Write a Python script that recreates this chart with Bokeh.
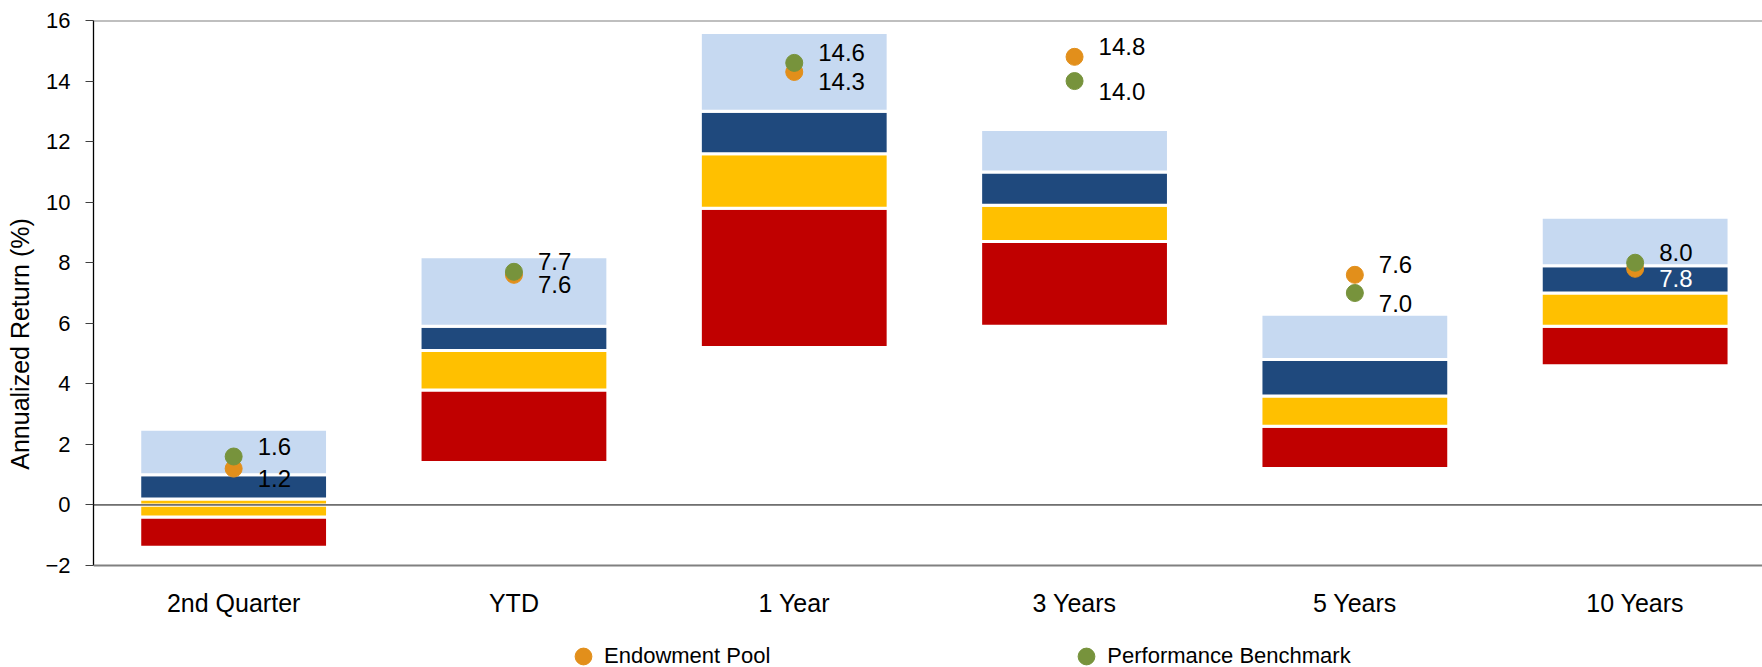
from bokeh.plotting import figure
from bokeh.models import ColumnDataSource, Range1d, FixedTicker, Span, Legend, LegendItem
from bokeh.core.properties import value
from bokeh.embed import file_html
from bokeh.resources import INLINE

# ---- data ----
categories = ["2nd Quarter", "YTD", "1 Year", "3 Years", "5 Years", "10 Years"]
pct95 = [2.5, 8.2, 15.6, 12.4, 6.3, 9.5]
pct75 = [1.0, 5.9, 13.0, 11.0, 4.8, 7.9]
pct50 = [0.2, 5.1, 11.6, 9.9, 3.6, 7.0]
pct25 = [-0.4, 3.8, 9.8, 8.7, 2.6, 5.9]
pct5 = [-1.4, 1.4, 5.2, 5.9, 1.2, 4.6]
endowment = [1.2, 7.6, 14.3, 14.8, 7.6, 7.8]
benchmark = [1.6, 7.7, 14.6, 14.0, 7.0, 8.0]
y_ticks = [-2, 0, 2, 4, 6, 8, 10, 12, 14, 16]
series_names = ["Endowment Pool", "Performance Benchmark"]

# ---- style ----
FONT = "Liberation Sans"
RED, YELLOW, DARKBLUE, LIGHTBLUE = "#C00000", "#FFC000", "#1F497D", "#C6D9F1"
ORANGE, GREEN = "#E28F1B", "#77933C"
white_labels = {(5, 0)}  # (category index, series index) drawn in white

W, H = 1762, 667
TOP_PAD = 20
LEFT_PAD = 93
PX_PER_UNIT = 545 / (y_ticks[-1] - y_ticks[0])
CAT_PX = 280.3
y_lo, y_hi = y_ticks[0], y_ticks[-1]
y_start = y_hi - (H - TOP_PAD) / PX_PER_UNIT
x_end = -0.5 + (W - LEFT_PAD) / CAT_PX

p = figure(width=W, height=H, x_range=Range1d(-0.5, x_end), y_range=Range1d(y_start, y_hi),
           output_backend="svg", toolbar_location=None, x_axis_location=None,
           min_border_left=LEFT_PAD, min_border_right=0, min_border_top=TOP_PAD, min_border_bottom=0)
p.xgrid.visible = False
p.ygrid.visible = False
p.outline_line_color = None
p.background_fill_color = "white"

# floating stacked bars
xs, tops, bottoms, colors = [], [], [], []
bands = [(pct5, pct25, RED), (pct25, pct50, YELLOW), (pct50, pct75, DARKBLUE), (pct75, pct95, LIGHTBLUE)]
for lo_list, hi_list, col in bands:
    for i, (lo, hi) in enumerate(zip(lo_list, hi_list)):
        pieces = [(lo, 0.0), (0.0, hi)] if lo < 0 < hi else [(lo, hi)]
        for a, b in pieces:
            xs.append(i)
            bottoms.append(a)
            tops.append(b)
            colors.append(col)
bar_src = ColumnDataSource(dict(x=xs, top=tops, bottom=bottoms, color=colors))
p.vbar(x="x", top="top", bottom="bottom", width=0.67, source=bar_src,
       fill_color="color", line_color="white", line_width=3)

xidx = list(range(len(categories)))
r_end = p.scatter(xidx, endowment, size=17, fill_color=ORANGE, line_color=ORANGE)
r_ben = p.scatter(xidx, benchmark, size=17, fill_color=GREEN, line_color=GREEN)

# data labels
lx, ly, lt, loff, lcol = [], [], [], [], []
for i in xidx:
    vals = [endowment[i], benchmark[i]]
    for s, v in enumerate(vals):
        other = vals[1 - s]
        lx.append(i)
        ly.append(v)
        lt.append(f"{v:.1f}")
        loff.append(-10 if v >= other else 10)
        lcol.append("white" if (i, s) in white_labels else "black")
lab_src = ColumnDataSource(dict(x=lx, y=ly, text=lt, yoff=loff, color=lcol))
p.text(x="x", y="y", text="text", y_offset="yoff", x_offset=24, source=lab_src,
       text_color="color", text_align="left", text_baseline="middle",
       text_font=value(FONT), text_font_size="24px")

# reference lines (zero line, top border, category-axis line at the axis floor)
p.add_layout(Span(location=0, dimension="width", line_color="black", line_width=1))
p.add_layout(Span(location=y_hi, dimension="width", line_color="#808080", line_width=2))
p.add_layout(Span(location=y_lo, dimension="width", line_color="#808080", line_width=2))

# category labels under the axis floor
cat_src = ColumnDataSource(dict(x=xidx, y=[y_lo] * len(categories), text=categories))
p.text(x="x", y="y", text="text", source=cat_src, y_offset=37,
       text_align="center", text_baseline="middle", text_color="black",
       text_font=value(FONT), text_font_size="25px")

# value axis
ya = p.yaxis[0]
ya.bounds = (y_lo, y_hi)
ya.ticker = FixedTicker(ticks=y_ticks)
ya.axis_line_color = "black"
ya.axis_line_width = 1.3
ya.major_tick_in = 0
ya.major_tick_out = 8
ya.major_tick_line_color = "#404040"
ya.minor_tick_line_color = None
ya.major_label_standoff = 15
ya.major_label_text_font = FONT
ya.major_label_text_font_size = "22px"
ya.major_label_text_color = "black"
ya.axis_label = "Annualized Return (%)"
ya.axis_label_text_font = FONT
ya.axis_label_text_font_size = "25px"
ya.axis_label_text_font_style = "normal"
ya.axis_label_text_color = "black"
ya.axis_label_standoff = 8

legend = Legend(items=[LegendItem(label=series_names[0], renderers=[r_end]),
                       LegendItem(label=series_names[1], renderers=[r_ben])],
                location=(469, -10), orientation="horizontal", spacing=295,
                padding=0, margin=0, glyph_width=42, glyph_height=42, label_standoff=0,
                label_text_font=FONT, label_text_font_size="22px", label_text_color="black",
                background_fill_alpha=0, border_line_color=None)
p.add_layout(legend)

open("out.html", "w").write(file_html(p, INLINE))
